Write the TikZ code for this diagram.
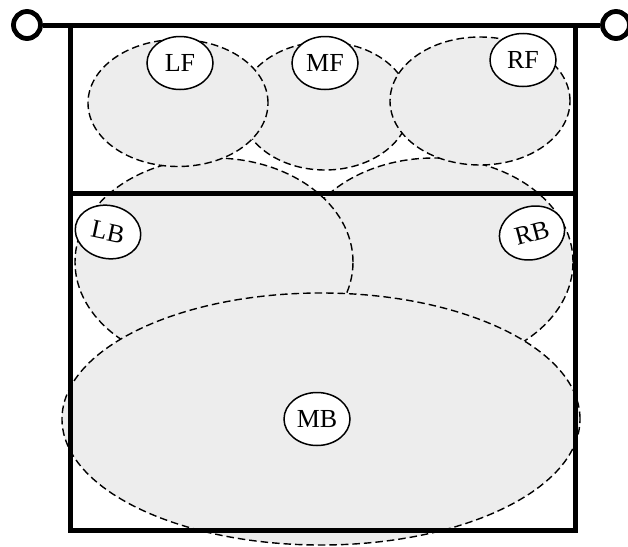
\documentclass[tikz,border=0pt]{standalone}
\usepackage{fontspec}
\setmainfont{Liberation Serif}
\usetikzlibrary{shapes.geometric}
\definecolor{zonegray}{RGB}{237,237,237}
\tikzset{
  zone/.style={ellipse, draw=black, fill=zonegray, line width=1.4pt,
    dash pattern=on 7.5pt off 4pt, inner sep=0pt, outer sep=0pt},
  poslabel/.style={ellipse, draw=black, fill=white, line width=1.5pt,
    minimum width=66pt, minimum height=53pt, inner sep=0pt,
    font=\fontsize{26}{27}\selectfont},
  post/.style={circle, draw=black, line width=4.8pt, minimum size=27pt, inner sep=0pt},
  court/.style={line width=5pt, draw=black},
}
\begin{document}
\begin{tikzpicture}[x=1pt,y=-1pt]
\useasboundingbox (0,0) rectangle (628,546);
% zones (back to front)
\node[zone, minimum width=278pt, minimum height=208pt] (rbz) at (434,262) {};
\node[zone, minimum width=278pt, minimum height=208pt] (lbz) at (214,262) {};
\node[zone, minimum width=170pt, minimum height=128pt] (mfz) at (325,106) {};
\node[zone, minimum width=180pt, minimum height=127pt] (lfz) at (178,103) {};
\node[zone, minimum width=180pt, minimum height=128pt] (rfz) at (480,101) {};
\node[zone, minimum width=518pt, minimum height=252pt] (mbz) at (321,419) {};
% court
\draw[court] (70,25) rectangle (575.5,530);
\draw[court] (70,193.5) -- (575.5,193.5);
% net posts
\node[post] (postL) at (27,25) {};
\node[post] (postR) at (616,25) {};
\draw[court] (postL) -- (postR);
% labels
\node[poslabel] (lf) at (180,63) {LF};
\node[poslabel] (mf) at (325,63) {MF};
\node[poslabel] (rf) at (523,60) {RF};
\node[poslabel, rotate=-12] (lb) at (108,232) {LB};
\node[poslabel, rotate=15] (rb) at (532,233) {RB};
\node[poslabel] (mb) at (317,419) {MB};
\end{tikzpicture}
\end{document}
